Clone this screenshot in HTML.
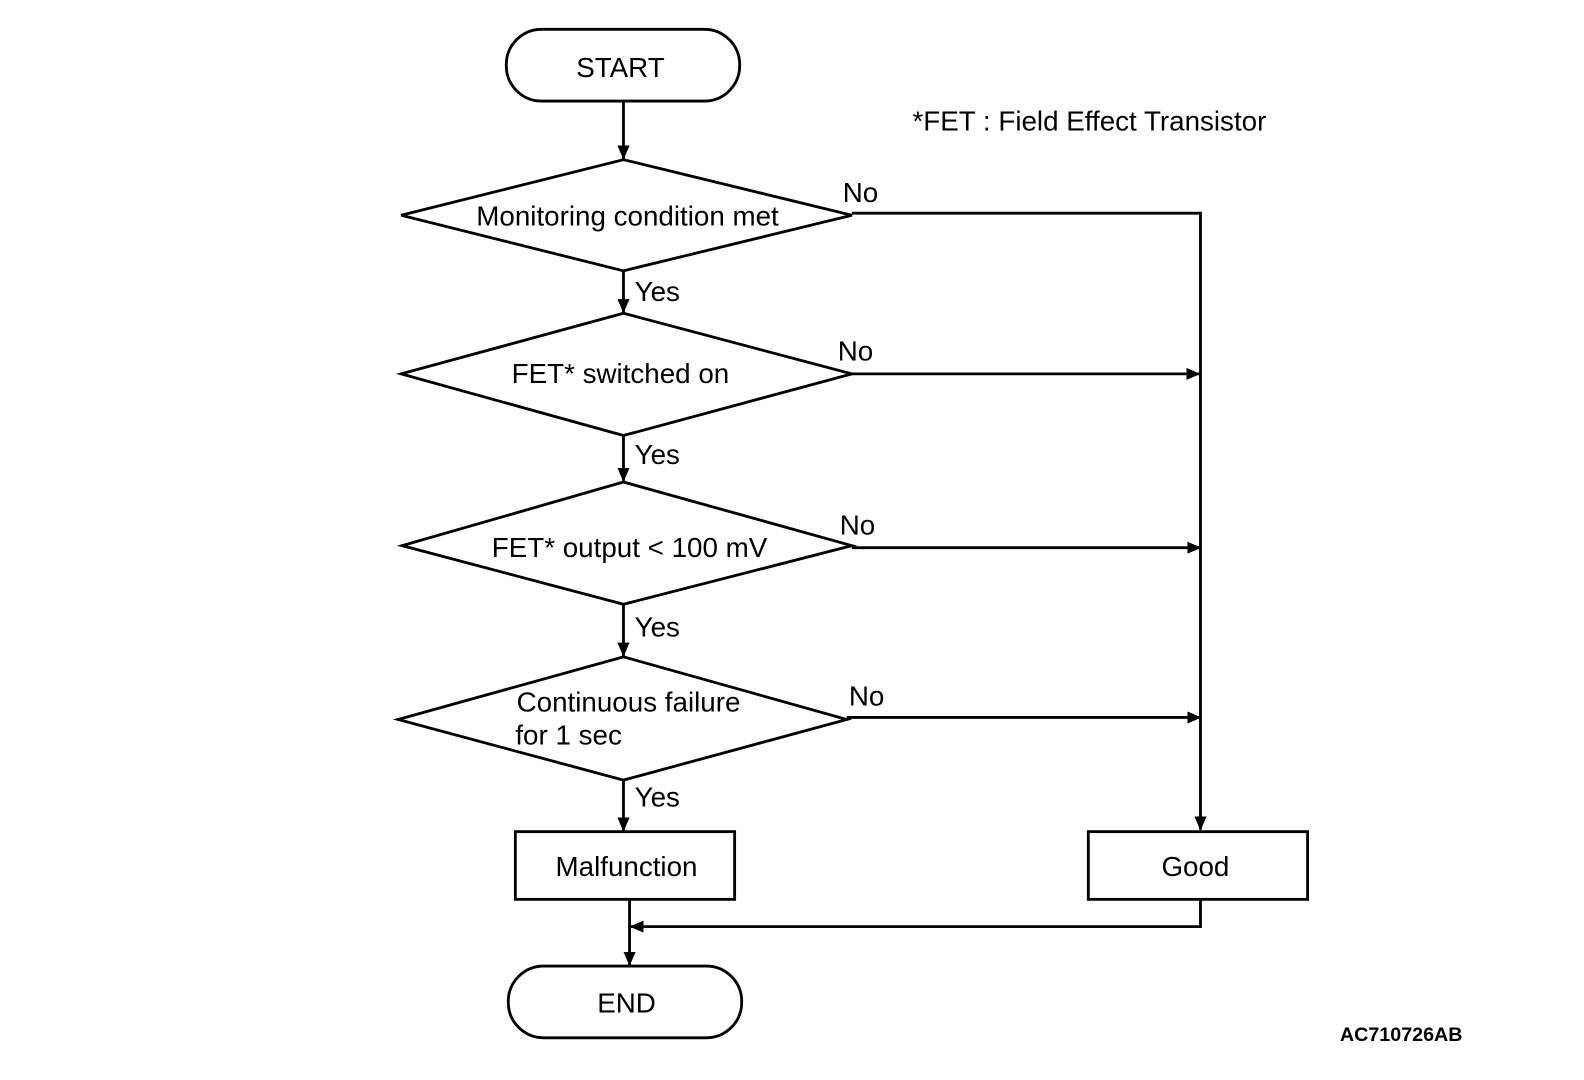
<!DOCTYPE html>
<html><head><meta charset="utf-8"><style>
html,body{margin:0;padding:0;background:#fff;}
svg{display:block;}
text{font-family:"Liberation Sans",Arial,sans-serif;fill:#000;}
</style></head><body>
<svg width="1584" height="1080" viewBox="0 0 1584 1080" xmlns="http://www.w3.org/2000/svg">
<defs>
<marker id="b" markerWidth="14" markerHeight="14" refX="13" refY="6" orient="auto" markerUnits="userSpaceOnUse">
<path d="M0,0 L14,6 L0,12 z" fill="#000"/></marker>
</defs>
<g transform="scale(1.0105)">
<g stroke="#000" stroke-width="2.8" fill="none">
<rect x="501" y="29" width="231" height="71" rx="35"/>
<rect x="503" y="956" width="231" height="71" rx="35"/>
<rect x="510" y="823" width="217" height="67"/>
<rect x="1077" y="823" width="217" height="67"/>
<polygon points="397,213 617,158 843,213 617,268"/>
<polygon points="397,370 617,310 843,370 617,431"/>
<polygon points="398,540 617,477 843,540 617,598"/>
<polygon points="394,712 617,650 838,712 617,772"/>
<line x1="617" y1="100" x2="617" y2="157" marker-end="url(#b)"/>
<line x1="617" y1="268" x2="617" y2="309" marker-end="url(#b)"/>
<line x1="617" y1="431" x2="617" y2="476" marker-end="url(#b)"/>
<line x1="617" y1="598" x2="617" y2="649" marker-end="url(#b)"/>
<line x1="617" y1="772" x2="617" y2="822" marker-end="url(#b)"/>
<polyline points="843,211 1188,211 1188,821" marker-end="url(#b)"/>
<line x1="843" y1="370" x2="1187" y2="370" marker-end="url(#b)"/>
<line x1="843" y1="542" x2="1188" y2="542" marker-end="url(#b)"/>
<line x1="838" y1="710" x2="1188" y2="710" marker-end="url(#b)"/>
<polyline points="1188,890 1188,917 624,917" marker-end="url(#b)"/>
<line x1="623" y1="890" x2="623" y2="955" marker-end="url(#b)"/>
</g>
<g font-size="27.5" text-anchor="middle">
<text x="614" y="76">START</text>
<text x="621" y="223">Monitoring condition met</text>
<text x="614" y="379">FET* switched on</text>
<text x="623" y="551">FET* output &lt; 100 mV</text>
<text x="622" y="704">Continuous failure</text>
<text x="620" y="867">Malfunction</text>
<text x="1183" y="867">Good</text>
<text x="620" y="1002">END</text>
</g>
<g font-size="27.5">
<text x="510" y="737">for 1 sec</text>
<text x="834" y="200">No</text>
<text x="829" y="357">No</text>
<text x="831" y="529">No</text>
<text x="840" y="698">No</text>
<text x="628" y="298">Yes</text>
<text x="628" y="459">Yes</text>
<text x="628" y="630">Yes</text>
<text x="628" y="798">Yes</text>
<text x="903" y="129">*FET : Field Effect Transistor</text>
</g>
<text x="1326" y="1030" font-size="19.5" font-weight="bold">AC710726AB</text>
</g>
</svg>
</body></html>
